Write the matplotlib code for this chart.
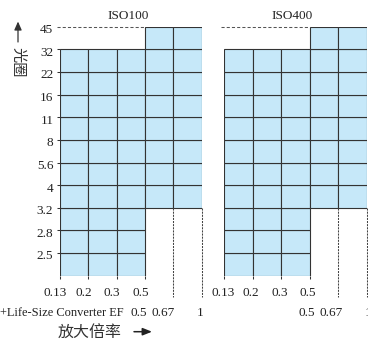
import matplotlib
matplotlib.use("Agg")
import matplotlib.pyplot as plt
from matplotlib.patches import Rectangle, FancyArrowPatch

# Aperture stops, bottom to top (rows 1..11; row 0 is the unlabeled band below f/2.5)
apertures = ["2.5", "2.8", "3.2", "4", "5.6", "8", "11", "16", "22", "32", "45"]
# Magnification steps: lens alone, then with the Life-Size Converter EF attached
mag_lens = ["0.13", "0.2", "0.3", "0.5"]
mag_converter = ["0.5", "0.67", "1"]
converter_label = "+Life-Size Converter EF"
# Usable aperture range for each of the five magnification columns
col_bottom = [None, None, None, "3.2", "3.2"]
col_top = ["32", "32", "32", "45", "45"]
panels = ["ISO100", "ISO400"]

W, H = 368, 340
FILL = "#c6e8f9"
LINE = "#333333"
TXT = "#222222"
LATIN = "Liberation Serif"
CJK = ["Noto Sans CJK TC", "DejaVu Sans"]
FS = 9.5


def row_of(stop):
    return 0 if stop is None else apertures.index(stop) + 1


def px_rect(x0, x1, ytop, ybot):
    return [x0 / W, 1 - ybot / H, (x1 - x0) / W, (ybot - ytop) / H]


fig = plt.figure(figsize=(W / 100, H / 100), dpi=100)

# left/right pixel extents of each panel, shared vertical extent
panel_x = [(60.0, 201.7), (224.3, 366.7)]
y_top, y_bot = 26.7, 275.7
# horizontal nudges of the magnification labels (row 1 centred, row 2 right-aligned)
row1_dx = [-4.5, -1.5]
row2_dx = [1.5, 5.0]

ncol = len(col_top)
nrow = len(apertures)
row_px = (y_bot - y_top) / nrow

for p, title in enumerate(panels):
    x0, x1 = panel_x[p]
    ax = fig.add_axes(px_rect(x0, x1, y_top, y_bot))
    ax.set_xlim(0, ncol)
    ax.set_ylim(0, nrow)
    for s in ax.spines.values():
        s.set_visible(False)
    ax.patch.set_visible(False)
    col_px = (x1 - x0) / ncol

    # grid of usable combinations
    for c in range(ncol):
        for r in range(row_of(col_bottom[c]), row_of(col_top[c])):
            ax.add_patch(Rectangle((c, r), 1, 1, facecolor=FILL, edgecolor=LINE,
                                   linewidth=0.8))

    # dashed guide to the highest stop
    top_row = row_of(col_top[-1])
    first_top_col = col_top.index(col_top[-1])
    ax.plot([-3 / col_px, first_top_col], [top_row, top_row], color="#555555",
            lw=0.75, ls=(0, (3, 2)), clip_on=False)

    # dotted drop lines for the converter-only magnifications
    conv_start = len(mag_lens) - 1
    conv_row = row_of(col_bottom[-1])
    for k in range(1, len(mag_converter)):
        ax.plot([conv_start + k, conv_start + k], [conv_row, -21.3 / row_px],
                color="#444444", lw=0.75, ls=(0, (2, 1)), clip_on=False)

    # ticks
    ax.set_xticks(range(len(mag_lens)))
    if p == 0:
        ax.set_yticks(range(1, row_of(col_top[0]) + 1))
    else:
        ax.set_yticks([])
    ax.tick_params(axis="both", length=2.2, width=0.75, color=LINE,
                   direction="out", labelleft=False, labelbottom=False)

    common = dict(textcoords="offset pixels", va="baseline",
                  family=LATIN, color=TXT, annotation_clip=False)

    # magnification labels
    for i, m in enumerate(mag_lens):
        ax.annotate(m, xy=(i, 0), xycoords=("data", "axes fraction"),
                    xytext=(row1_dx[p], -20.2), ha="center", fontsize=FS, **common)
    for k, m in enumerate(mag_converter):
        ax.annotate(m, xy=(conv_start + k, 0), xycoords=("data", "axes fraction"),
                    xytext=(row2_dx[p], -39.8), ha="right", fontsize=FS, **common)

    if p == 0:
        for i, a in enumerate(apertures):
            ax.annotate(a, xy=(0, i + 1), xycoords="data",
                        xytext=(-6.7, -6.4), ha="right", fontsize=FS, **common)
        ax.annotate(converter_label, xy=(0, 0), xycoords="axes fraction",
                    xytext=(-59.5, -39.8), ha="left", fontsize=8.9, **common)

    ax.annotate(title, xy=(0.5, 1), xycoords="axes fraction",
                xytext=(-3.0, 7.3), ha="center", fontsize=FS, **common)

# axis captions with arrows
fig.text(18 / W, 1 - 62.5 / H, "光圈", rotation=-90, ha="center", va="center",
         family=CJK, fontsize=11, color="#333333")
fig.add_artist(FancyArrowPatch(posA=(18 / W, 1 - 42 / H), posB=(18 / W, 1 - 21.5 / H),
                               transform=fig.transFigure,
                               arrowstyle="-|>,head_length=0.5,head_width=0.22",
                               mutation_scale=10, lw=0.9, color="#333333",
                               shrinkA=0, shrinkB=0))
fig.text(90 / W, 1 - 337.5 / H, "放大倍率", ha="center", va="baseline",
         family=CJK, fontsize=11.5, color="#333333")
fig.add_artist(FancyArrowPatch(posA=(134 / W, 1 - 331.7 / H), posB=(152 / W, 1 - 331.7 / H),
                               transform=fig.transFigure,
                               arrowstyle="-|>,head_length=0.55,head_width=0.22",
                               mutation_scale=10, lw=1.1, color="#222222",
                               shrinkA=0, shrinkB=0))

fig.savefig("out.png", dpi=100)
